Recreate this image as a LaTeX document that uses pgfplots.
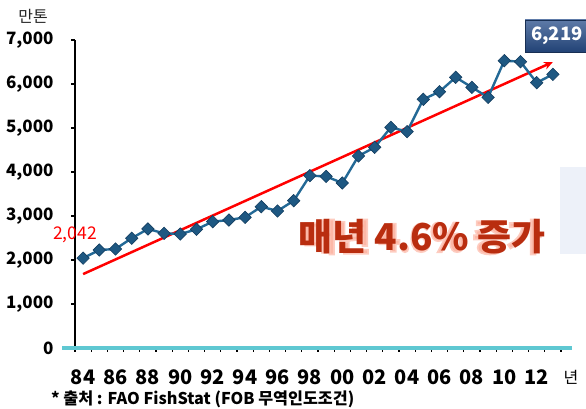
\documentclass[border=0pt]{standalone}
\usepackage{pgfplots}
\pgfplotsset{compat=1.18}
\usepackage{fontspec}
\setmainfont{Noto Sans CJK KR}
\newfontfamily\glowfont{Noto Sans CJK KR}[FakeBold=9]
\usetikzlibrary{arrows.meta}
\definecolor{serblue}{RGB}{35,105,150}
\definecolor{markfill}{RGB}{30,88,130}
\definecolor{markdraw}{RGB}{18,60,95}
\definecolor{axcyan}{RGB}{95,200,210}
\definecolor{boxblue}{RGB}{40,78,138}
\definecolor{bigred}{RGB}{185,45,15}
\definecolor{glowred}{RGB}{252,170,150}
\pgfplotstableread{
year val
1984 2042
1985 2227
1986 2250
1987 2495
1988 2705
1989 2606
1990 2590
1991 2697
1992 2871
1993 2909
1994 2970
1995 3212
1996 3114
1997 3348
1998 3917
1999 3900
2000 3750
2001 4364
2002 4561
2003 5015
2004 4917
2005 5652
2006 5826
2007 6152
2008 5924
2009 5697
2010 6530
2011 6507
2012 6030
2013 6219
}\datatable
\begin{document}
\begin{tikzpicture}
\path[use as bounding box] (0,0) rectangle (586bp,409bp);
% light panel piece at right
\fill[color={rgb,255:red,237;green,241;blue,249}] (560bp,155bp) rectangle (600bp,242bp);
\begin{axis}[
  at={(75bp,61bp)}, anchor=south west,
  scale only axis, width=486bp, height=308bp,
  xmin=1983.5, xmax=2013.5, ymin=0, ymax=7000,
  clip=false,
  axis x line=bottom, axis y line=left,
  x axis line style={draw=none},
  y axis line style={black, line width=1.6bp, -},
  tick align=outside,
  xtick={1983.5,1984.5,...,2013.5},
  xticklabels={},
  major tick length=4bp,
  xtick style={black, line width=1.2bp},
  extra x ticks={1984,1986,...,2012},
  extra x tick labels={84,86,88,90,92,94,96,98,00,02,04,06,08,10,12},
  extra x tick style={major tick length=0pt, tick label style={font=\fontsize{20bp}{22bp}\selectfont\bfseries, yshift=-18bp}},
  ytick={0,1000,...,7000},
  ytick style={black, line width=1.4bp},
  yticklabel style={font=\fontsize{17bp}{20bp}\selectfont\bfseries, xshift=-14bp},
  /pgf/number format/assume math mode=true,
  /pgf/number format/1000 sep={,},
]
\draw[axcyan, line width=4bp] (axis cs:1982.7,0) -- (axis cs:2014.2,0);
\addplot[red, line width=2.5bp, -{Stealth[length=9bp,width=8bp]}] coordinates {(1984,1680) (2013,6500)};
\addplot[serblue, line width=2.4bp, mark=square*, mark size=4.4bp,
  mark options={rotate=45, fill=markfill, draw=markdraw, line width=0.6bp}] table[x=year,y=val] {\datatable};
\end{axis}
% labels
\node[anchor=center, text=black!85] at (33bp,393bp) {\fontsize{16bp}{18bp}\selectfont 만톤};
\node[anchor=center] at (571bp,32bp) {\fontsize{16bp}{18bp}\selectfont 년};
\node[anchor=west, inner sep=0pt] at (51bp,10bp) {\fontsize{16.2bp}{18bp}\selectfont\bfseries * 출처 : FAO FishStat (FOB 무역인도조건)};
\node[text=red, anchor=center] at (75bp,174bp) {\fontsize{17.5bp}{19bp}\selectfont 2,042};
% value box
\shade[top color=boxblue!75!white, bottom color=boxblue!85!black, draw=boxblue!60!black, line width=0.6bp] (525bp,357bp) rectangle (610bp,389bp);
\node[text=white] at (557bp,373bp) {\fontsize{18.5bp}{21bp}\selectfont\bfseries 6,219};
% big text with glow
\node[text=glowred, opacity=0.6] at (422bp,172bp) {\fontsize{37bp}{40bp}\selectfont\glowfont 매년 4.6\% 증가};
\node[text=bigred] at (422bp,172bp) {\fontsize{37bp}{40bp}\selectfont\bfseries 매년 4.6\% 증가};
\end{tikzpicture}
\end{document}
